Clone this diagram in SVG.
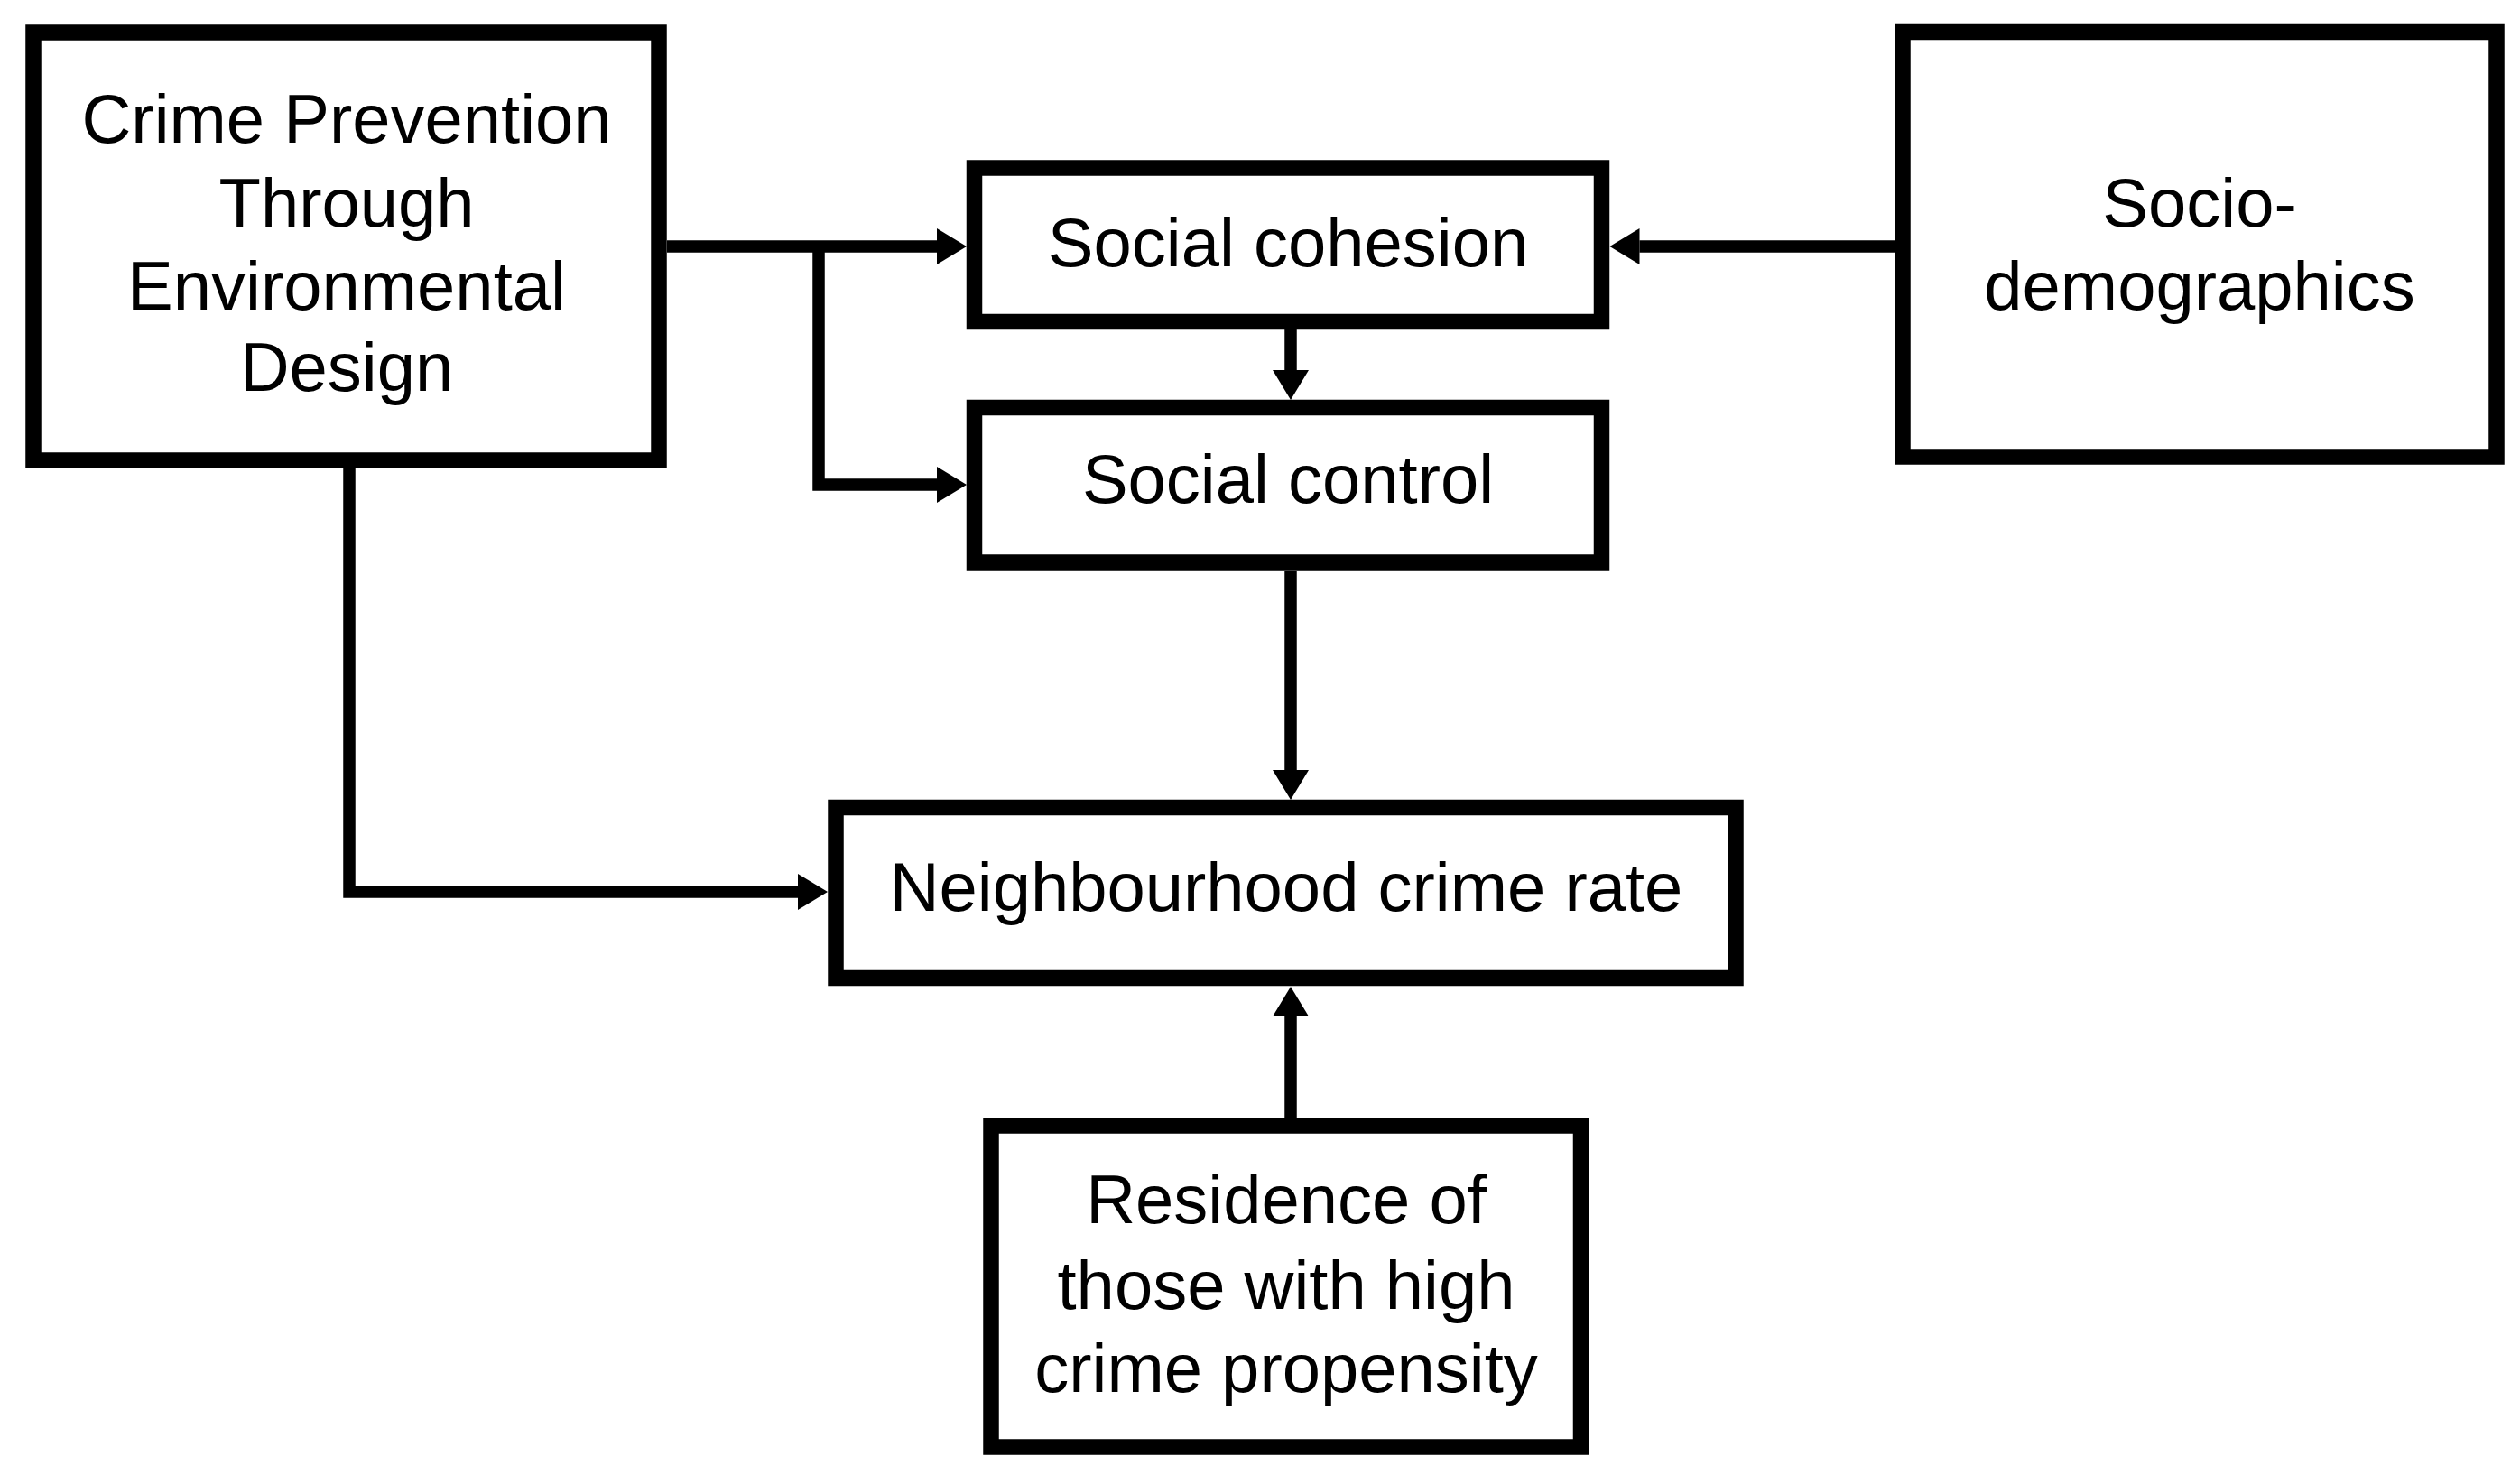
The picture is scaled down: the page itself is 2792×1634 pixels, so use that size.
<svg xmlns="http://www.w3.org/2000/svg" width="2792" height="1634" viewBox="0 0 2792 1634">
  <style>
    .box { fill: #ffffff; stroke: #000000; stroke-width: 17.5; }
    .lbl { font-family: "Liberation Sans", Arial, Helvetica, sans-serif; font-size: 76px; fill: #000000; text-anchor: middle; }
    .conn { fill: none; stroke: #000000; stroke-width: 13.5; stroke-linejoin: miter; }
  </style>
  <defs>
    <marker id="arr" markerUnits="userSpaceOnUse" markerWidth="34" markerHeight="42" refX="0" refY="21" orient="auto" overflow="visible">
      <path d="M0,1 L33,21 L0,41 z" fill="#000000"/>
    </marker>
  </defs>
  <rect width="2792" height="1634" fill="#ffffff"/>

  <g id="connectors">
    <path class="conn" d="M739,273 H1038" marker-end="url(#arr)"/>
    <path class="conn" d="M907,273 V537 H1038" marker-end="url(#arr)"/>
    <path class="conn" d="M2099,273 H1816.5" marker-end="url(#arr)"/>
    <path class="conn" d="M1430,365 V410" marker-end="url(#arr)"/>
    <path class="conn" d="M1430,632 V853" marker-end="url(#arr)"/>
    <path class="conn" d="M387,519 V988 H884" marker-end="url(#arr)"/>
    <path class="conn" d="M1430,1238 V1126" marker-end="url(#arr)"/>
  </g>

  <g id="cpted">
    <rect class="box" x="37" y="36" width="693" height="474"/>
    <text class="lbl" x="384" y="158">Crime Prevention</text>
    <text class="lbl" x="384" y="251">Through</text>
    <text class="lbl" x="384" y="343">Environmental</text>
    <text class="lbl" x="384" y="433">Design</text>
  </g>

  <g id="social-cohesion">
    <rect class="box" x="1079.5" y="186" width="695" height="170.5"/>
    <text class="lbl" x="1427" y="295">Social cohesion</text>
  </g>

  <g id="social-control">
    <rect class="box" x="1079.5" y="451.5" width="695" height="171.5"/>
    <text class="lbl" x="1427" y="557">Social control</text>
  </g>

  <g id="sociodemographics">
    <rect class="box" x="2108" y="35.5" width="658" height="470.5"/>
    <text class="lbl" x="2437" y="251">Socio-</text>
    <text class="lbl" x="2437" y="343">demographics</text>
  </g>

  <g id="neighbourhood-crime-rate">
    <rect class="box" x="926" y="894.5" width="997" height="189"/>
    <text class="lbl" x="1425" y="1009">Neighbourhood crime rate</text>
  </g>

  <g id="residence">
    <rect class="box" x="1098" y="1247" width="653.5" height="356"/>
    <text class="lbl" x="1425" y="1355">Residence of</text>
    <text class="lbl" x="1425" y="1450">those with high</text>
    <text class="lbl" x="1425" y="1542">crime propensity</text>
  </g>
</svg>
